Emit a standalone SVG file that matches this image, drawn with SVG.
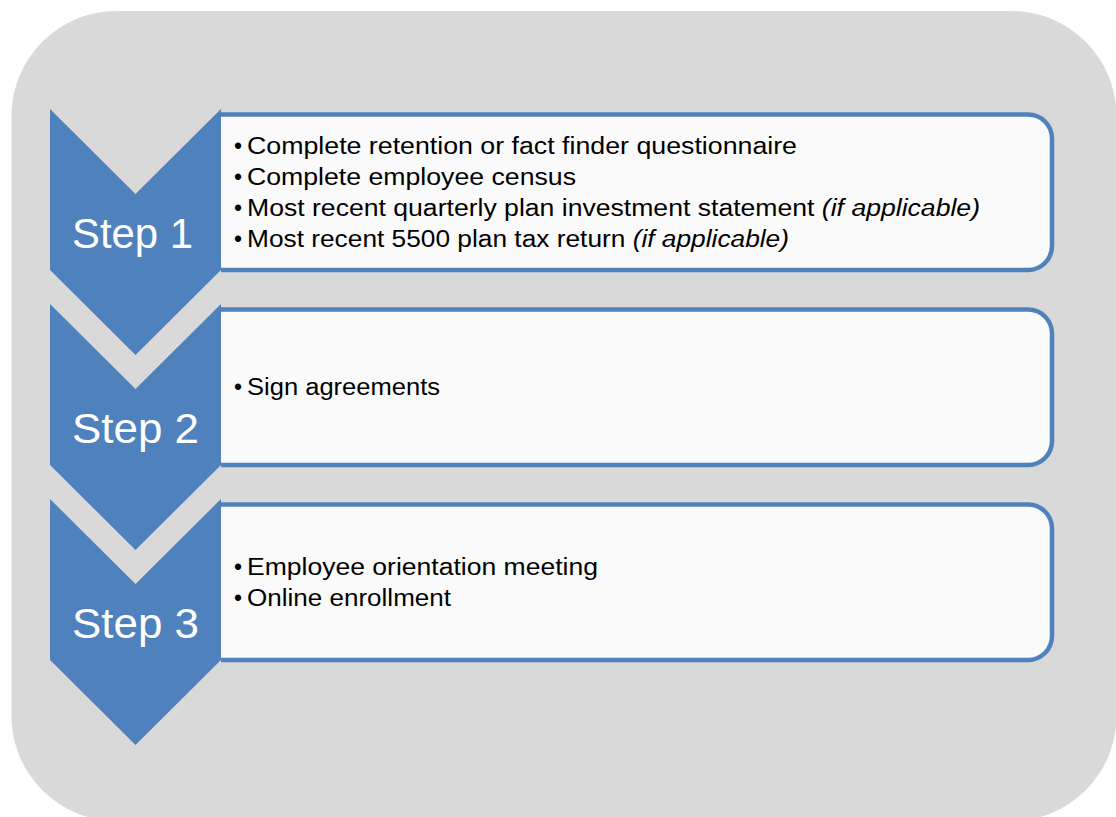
<svg xmlns="http://www.w3.org/2000/svg" width="1116" height="817" viewBox="0 0 1116 817">
<style>
.bg{fill:#D9D9D9}
.chev{fill:#4F81BD}
.box{fill:#FAFAFA;stroke:#4F81BD;stroke-width:4.5}
.step{fill:#FFFFFF;font-family:"Liberation Sans",Arial,sans-serif;font-size:43px}
.item{fill:#000000;font-family:"Liberation Sans",Arial,sans-serif;font-size:23px}
.it{font-style:italic}
</style>
<rect class="bg" x="11.5" y="11" width="1105" height="810" rx="105" ry="105"/>
<g id="connectors"></g>
<g id="step1">
  <path class="box" d="M221,114.5 H1028 A24,24 0 0 1 1052,138.5 V246 A24,24 0 0 1 1028,270 H221"/>
  <polygon class="chev" points="50,109 135.5,194 221,109 221,270 135.5,355 50,270"/>
  <text class="step" x="72" y="248" textLength="121" lengthAdjust="spacingAndGlyphs">Step 1</text>
  <text class="item" x="234" y="154">•</text>
  <text class="item" x="247" y="154" textLength="550" lengthAdjust="spacingAndGlyphs">Complete retention or fact finder questionnaire</text>
  <text class="item" x="234" y="185">•</text>
  <text class="item" x="247" y="185" textLength="329" lengthAdjust="spacingAndGlyphs">Complete employee census</text>
  <text class="item" x="234" y="216">•</text>
  <text class="item" x="247" y="216" textLength="733" lengthAdjust="spacingAndGlyphs">Most recent quarterly plan investment statement <tspan class="it">(if applicable)</tspan></text>
  <text class="item" x="234" y="247">•</text>
  <text class="item" x="247" y="247" textLength="542" lengthAdjust="spacingAndGlyphs">Most recent 5500 plan tax return <tspan class="it">(if applicable)</tspan></text>
</g>
<g id="step2">
  <path class="box" d="M221,309.5 H1028 A24,24 0 0 1 1052,333.5 V441 A24,24 0 0 1 1028,465 H221"/>
  <polygon class="chev" points="50,304 135.5,389 221,304 221,465 135.5,550 50,465"/>
  <text class="step" x="72" y="443" textLength="127" lengthAdjust="spacingAndGlyphs">Step 2</text>
  <text class="item" x="234" y="395">•</text>
  <text class="item" x="247" y="395" textLength="193" lengthAdjust="spacingAndGlyphs">Sign agreements</text>
</g>
<g id="step3">
  <path class="box" d="M221,504.5 H1028 A24,24 0 0 1 1052,528.5 V636 A24,24 0 0 1 1028,660 H221"/>
  <polygon class="chev" points="50,499 135.5,584 221,499 221,660 135.5,745 50,660"/>
  <text class="step" x="72" y="638" textLength="127" lengthAdjust="spacingAndGlyphs">Step 3</text>
  <text class="item" x="234" y="575">•</text>
  <text class="item" x="247" y="575" textLength="351" lengthAdjust="spacingAndGlyphs">Employee orientation meeting</text>
  <text class="item" x="234" y="606">•</text>
  <text class="item" x="247" y="606" textLength="204" lengthAdjust="spacingAndGlyphs">Online enrollment</text>
</g>
</svg>
